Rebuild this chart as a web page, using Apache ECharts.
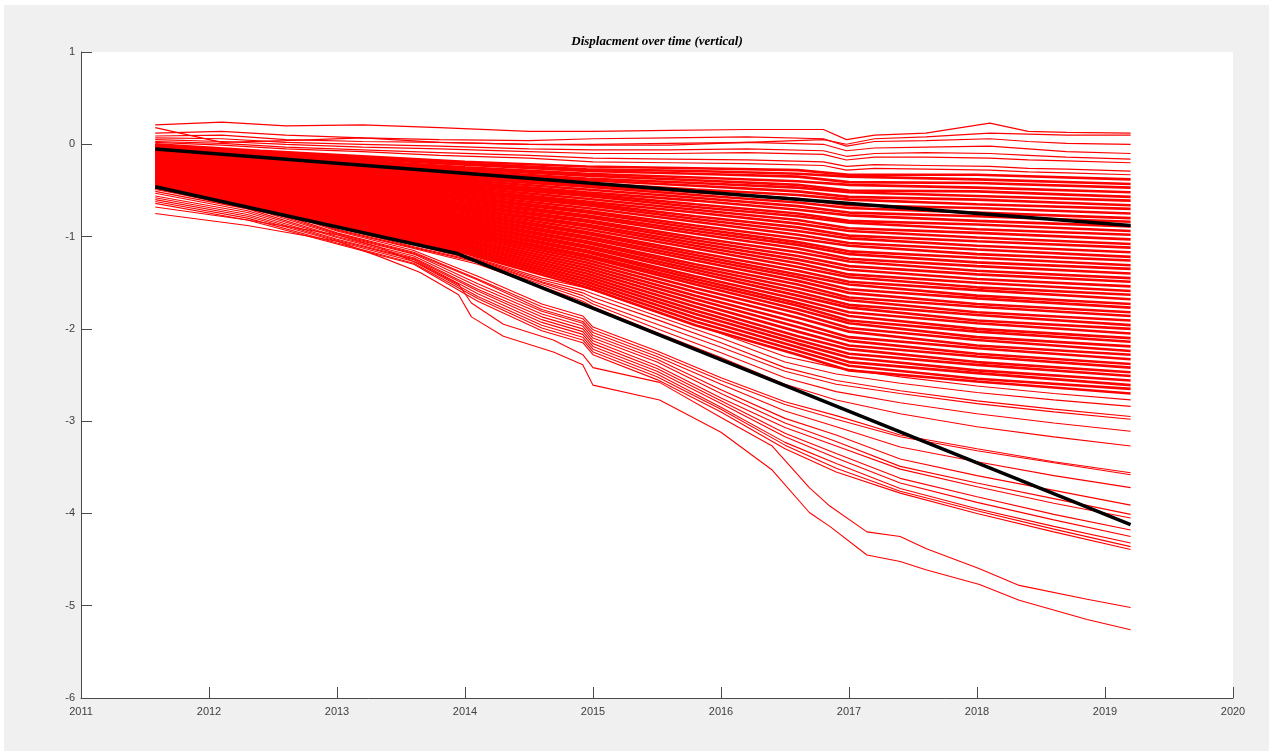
<!DOCTYPE html>
<html><head><meta charset="utf-8">
<script src="https://cdn.jsdelivr.net/npm/echarts@6/dist/echarts.min.js"></script>
<style>html,body{margin:0;padding:0;background:#fff;}#c{position:absolute;left:4px;top:5px;width:1265px;height:746px;}</style>
</head><body><div id="c"></div><script>
const chartTitle = 'Displacment over time (vertical)';
const xRange = [2011, 2020];
const yRange = [-6, 1];

// dense core band: sample times and displacement per point
const coreTimes = [2011.58, 2012.4, 2013.2, 2014.0, 2014.95, 2015.8, 2016.6, 2017.0, 2018.0, 2019.2];
const coreLines = [
[0.00,-0.07,-0.13,-0.19,-0.24,-0.26,-0.28,-0.33,-0.33,-0.38],
[-0.01,-0.08,-0.15,-0.21,-0.27,-0.29,-0.32,-0.35,-0.38,-0.43],
[-0.02,-0.10,-0.16,-0.22,-0.29,-0.32,-0.35,-0.41,-0.42,-0.47],
[-0.03,-0.11,-0.18,-0.25,-0.32,-0.36,-0.40,-0.44,-0.47,-0.52],
[-0.04,-0.12,-0.19,-0.27,-0.34,-0.39,-0.44,-0.50,-0.51,-0.57],
[-0.05,-0.14,-0.21,-0.29,-0.37,-0.42,-0.47,-0.52,-0.56,-0.61],
[-0.06,-0.15,-0.23,-0.30,-0.39,-0.45,-0.51,-0.57,-0.60,-0.66],
[-0.07,-0.16,-0.24,-0.33,-0.42,-0.49,-0.55,-0.60,-0.65,-0.70],
[-0.08,-0.17,-0.26,-0.35,-0.44,-0.52,-0.59,-0.66,-0.69,-0.75],
[-0.08,-0.19,-0.28,-0.37,-0.46,-0.55,-0.63,-0.69,-0.74,-0.80],
[-0.09,-0.20,-0.29,-0.39,-0.49,-0.58,-0.67,-0.74,-0.78,-0.84],
[-0.10,-0.21,-0.31,-0.41,-0.52,-0.61,-0.71,-0.77,-0.83,-0.89],
[-0.11,-0.23,-0.33,-0.43,-0.54,-0.65,-0.75,-0.83,-0.87,-0.94],
[-0.12,-0.24,-0.34,-0.45,-0.56,-0.68,-0.78,-0.85,-0.92,-0.98],
[-0.13,-0.25,-0.36,-0.47,-0.59,-0.71,-0.82,-0.91,-0.96,-1.03],
[-0.14,-0.27,-0.38,-0.49,-0.62,-0.74,-0.86,-0.94,-1.01,-1.08],
[-0.15,-0.28,-0.39,-0.51,-0.64,-0.78,-0.90,-0.99,-1.05,-1.12],
[-0.16,-0.29,-0.41,-0.53,-0.66,-0.81,-0.94,-1.02,-1.10,-1.17],
[-0.17,-0.30,-0.43,-0.55,-0.69,-0.84,-0.98,-1.07,-1.14,-1.22],
[-0.18,-0.32,-0.44,-0.57,-0.72,-0.88,-1.02,-1.10,-1.19,-1.26],
[-0.19,-0.33,-0.46,-0.59,-0.74,-0.91,-1.06,-1.16,-1.23,-1.31],
[-0.20,-0.34,-0.47,-0.61,-0.77,-0.94,-1.09,-1.19,-1.28,-1.35],
[-0.21,-0.36,-0.49,-0.63,-0.79,-0.97,-1.13,-1.24,-1.32,-1.40],
[-0.22,-0.37,-0.51,-0.65,-0.82,-1.01,-1.17,-1.27,-1.37,-1.45],
[-0.23,-0.38,-0.52,-0.67,-0.84,-1.04,-1.21,-1.32,-1.41,-1.49],
[-0.24,-0.39,-0.54,-0.69,-0.87,-1.07,-1.25,-1.36,-1.46,-1.54],
[-0.24,-0.41,-0.56,-0.70,-0.89,-1.10,-1.29,-1.41,-1.50,-1.59],
[-0.25,-0.42,-0.57,-0.72,-0.92,-1.13,-1.33,-1.44,-1.55,-1.63],
[-0.26,-0.43,-0.59,-0.74,-0.95,-1.17,-1.37,-1.49,-1.58,-1.68],
[-0.27,-0.45,-0.61,-0.76,-0.97,-1.20,-1.41,-1.52,-1.64,-1.73],
[-0.28,-0.46,-0.62,-0.78,-1.00,-1.23,-1.44,-1.57,-1.67,-1.77],
[-0.29,-0.47,-0.64,-0.80,-1.02,-1.26,-1.48,-1.61,-1.73,-1.82],
[-0.30,-0.49,-0.65,-0.82,-1.05,-1.30,-1.52,-1.66,-1.76,-1.86],
[-0.31,-0.50,-0.67,-0.84,-1.07,-1.33,-1.56,-1.69,-1.82,-1.91],
[-0.32,-0.51,-0.69,-0.86,-1.10,-1.36,-1.60,-1.74,-1.85,-1.96],
[-0.33,-0.53,-0.70,-0.88,-1.12,-1.39,-1.64,-1.77,-1.91,-2.00],
[-0.34,-0.54,-0.72,-0.90,-1.15,-1.43,-1.68,-1.82,-1.94,-2.05],
[-0.35,-0.55,-0.74,-0.92,-1.17,-1.46,-1.72,-1.86,-2.00,-2.10],
[-0.36,-0.56,-0.75,-0.94,-1.20,-1.49,-1.75,-1.91,-2.03,-2.14],
[-0.37,-0.58,-0.77,-0.96,-1.22,-1.52,-1.79,-1.94,-2.09,-2.19],
[-0.38,-0.59,-0.79,-0.98,-1.25,-1.56,-1.83,-1.99,-2.12,-2.24],
[-0.39,-0.60,-0.80,-1.00,-1.28,-1.60,-1.88,-2.03,-2.18,-2.28],
[-0.39,-0.62,-0.82,-1.02,-1.31,-1.64,-1.93,-2.09,-2.21,-2.33],
[-0.40,-0.63,-0.84,-1.04,-1.34,-1.68,-1.98,-2.13,-2.27,-2.38],
[-0.41,-0.64,-0.85,-1.06,-1.37,-1.72,-2.03,-2.18,-2.30,-2.42],
[-0.42,-0.66,-0.87,-1.08,-1.40,-1.76,-2.08,-2.22,-2.36,-2.47],
[-0.43,-0.67,-0.88,-1.10,-1.43,-1.80,-2.12,-2.27,-2.39,-2.51],
[-0.44,-0.68,-0.90,-1.12,-1.46,-1.84,-2.16,-2.31,-2.45,-2.56],
[-0.45,-0.69,-0.92,-1.14,-1.49,-1.88,-2.20,-2.36,-2.48,-2.61],
[-0.46,-0.71,-0.93,-1.16,-1.52,-1.92,-2.24,-2.40,-2.54,-2.65],
[-0.47,-0.72,-0.95,-1.18,-1.55,-1.96,-2.28,-2.45,-2.57,-2.70]
];

// sparse lines above the band
const topTimes = [2011.58, 2012.1, 2012.6, 2013.2, 2013.8, 2014.5, 2015.0, 2015.6, 2016.2, 2016.8, 2016.98, 2017.2, 2017.6, 2018.1, 2018.4, 2018.7, 2019.2];
const topLines = [
[0.21,0.24,0.20,0.21,0.18,0.14,0.14,0.15,0.16,0.16,0.05,0.10,0.12,0.23,0.14,0.13,0.12],
[0.18,0.02,0.04,0.07,0.02,0.00,-0.01,-0.01,0.02,0.05,0.00,0.06,0.08,0.12,0.11,0.10,0.10],
[0.12,0.14,0.10,0.07,0.05,0.04,0.06,0.07,0.08,0.06,-0.02,0.03,0.04,0.06,0.03,0.01,0.00],
[0.09,0.10,0.05,0.03,0.02,0.00,0.00,0.01,0.02,0.00,-0.07,-0.04,-0.03,-0.02,-0.05,-0.08,-0.10],
[0.07,0.06,0.02,0.00,-0.02,-0.05,-0.06,-0.06,-0.05,-0.07,-0.13,-0.10,-0.09,-0.10,-0.12,-0.14,-0.16],
[0.05,0.03,0.00,-0.03,-0.05,-0.08,-0.10,-0.10,-0.09,-0.11,-0.17,-0.14,-0.14,-0.15,-0.17,-0.18,-0.20],
[0.03,0.01,-0.03,-0.06,-0.09,-0.12,-0.15,-0.16,-0.17,-0.19,-0.24,-0.22,-0.23,-0.24,-0.26,-0.27,-0.29],
[0.02,-0.01,-0.05,-0.08,-0.12,-0.15,-0.19,-0.20,-0.21,-0.23,-0.28,-0.26,-0.27,-0.28,-0.30,-0.31,-0.33]
];

// sparse lines below the band
const lowerTimes = [2011.58, 2012.3, 2013.0, 2013.6, 2014.1, 2014.6, 2014.92, 2015.0, 2015.5, 2016.0, 2016.5, 2016.9, 2017.4, 2018.0, 2018.6, 2019.2];
const lowerLines = [
[-0.30,-0.50,-0.86,-1.06,-1.24,-1.45,-1.55,-1.58,-1.82,-2.05,-2.30,-2.42,-2.52,-2.62,-2.70,-2.77],
[-0.32,-0.52,-0.87,-1.07,-1.25,-1.47,-1.58,-1.62,-1.86,-2.10,-2.36,-2.49,-2.59,-2.69,-2.77,-2.84],
[-0.34,-0.54,-0.89,-1.09,-1.26,-1.49,-1.61,-1.66,-1.90,-2.15,-2.42,-2.56,-2.67,-2.78,-2.87,-2.95],
[-0.36,-0.56,-0.90,-1.11,-1.27,-1.50,-1.64,-1.70,-1.95,-2.20,-2.46,-2.60,-2.70,-2.81,-2.90,-2.98],
[-0.39,-0.58,-0.92,-1.12,-1.28,-1.52,-1.67,-1.73,-2.00,-2.26,-2.53,-2.68,-2.80,-2.92,-3.02,-3.11],
[-0.41,-0.60,-0.93,-1.13,-1.30,-1.54,-1.70,-1.76,-2.04,-2.31,-2.60,-2.77,-2.92,-3.06,-3.17,-3.27],
[-0.43,-0.62,-0.94,-1.15,-1.43,-1.73,-1.86,-1.98,-2.24,-2.53,-2.79,-2.94,-3.15,-3.30,-3.44,-3.56],
[-0.45,-0.64,-0.96,-1.17,-1.46,-1.76,-1.89,-2.01,-2.27,-2.56,-2.82,-2.98,-3.17,-3.32,-3.45,-3.58],
[-0.47,-0.66,-0.97,-1.18,-1.47,-1.79,-1.92,-2.04,-2.30,-2.60,-2.89,-3.06,-3.28,-3.44,-3.59,-3.72],
[-0.49,-0.68,-0.98,-1.19,-1.51,-1.81,-1.94,-2.07,-2.33,-2.66,-2.97,-3.15,-3.41,-3.59,-3.75,-3.91],
[-0.51,-0.70,-1.00,-1.21,-1.54,-1.84,-1.97,-2.10,-2.36,-2.70,-3.02,-3.22,-3.49,-3.67,-3.84,-4.01],
[-0.53,-0.72,-1.01,-1.23,-1.57,-1.87,-2.00,-2.13,-2.40,-2.75,-3.07,-3.27,-3.52,-3.71,-3.89,-4.05],
[-0.56,-0.74,-1.03,-1.24,-1.59,-1.90,-2.03,-2.16,-2.43,-2.78,-3.13,-3.35,-3.62,-3.82,-4.01,-4.18],
[-0.58,-0.76,-1.04,-1.25,-1.62,-1.93,-2.06,-2.19,-2.46,-2.81,-3.17,-3.40,-3.67,-3.88,-4.07,-4.25],
[-0.60,-0.78,-1.05,-1.27,-1.65,-1.96,-2.09,-2.22,-2.49,-2.85,-3.23,-3.46,-3.73,-3.95,-4.14,-4.32],
[-0.62,-0.80,-1.07,-1.29,-1.67,-1.99,-2.12,-2.25,-2.52,-2.87,-3.26,-3.51,-3.76,-3.97,-4.17,-4.36],
[-0.64,-0.82,-1.08,-1.30,-1.70,-2.02,-2.15,-2.28,-2.55,-2.90,-3.30,-3.55,-3.78,-4.00,-4.20,-4.39]
];

// the two deepest lines
const deepTimes = [2011.58, 2012.3, 2013.0, 2013.34, 2013.65, 2013.95, 2014.05, 2014.3, 2014.69, 2014.92, 2015.0, 2015.52, 2016.0, 2016.4, 2016.69, 2016.85, 2017.14, 2017.4, 2017.6, 2018.02, 2018.33, 2018.86, 2019.2];
const deepLines = [
[-0.68,-0.82,-0.98,-1.12,-1.30,-1.52,-1.72,-1.95,-2.12,-2.28,-2.42,-2.58,-2.96,-3.27,-3.72,-3.92,-4.20,-4.25,-4.38,-4.60,-4.78,-4.93,-5.02],
[-0.75,-0.88,-1.05,-1.22,-1.39,-1.63,-1.87,-2.08,-2.25,-2.39,-2.61,-2.77,-3.12,-3.53,-3.99,-4.14,-4.45,-4.52,-4.61,-4.77,-4.94,-5.15,-5.26]
];

// black trend lines
const upperTrendTimes = [2011.58, 2019.2];
const upperTrend = [-0.05, -0.88];
const lowerTrendTimes = [2011.58, 2013.93, 2019.2];
const lowerTrend = [-0.46, -1.18, -4.12];

function pairs(times, vals){ return vals.map((v,i)=>[times[i], v]); }
function mk(times, vals, width, color, z){
  return {type:'line', data:pairs(times, vals), showSymbol:false, symbol:'none', silent:true,
    color:color, itemStyle:{color:color}, z:z,
    lineStyle:{color:color, width:width, opacity:1}, emphasis:{disabled:true}, animation:false};
}
const RED = '#ff0000';
const series = [];
coreLines.forEach(v=>series.push(mk(coreTimes, v, 2.6, RED, 2)));
topLines.forEach(v=>series.push(mk(topTimes, v, 1.2, RED, 2)));
lowerLines.forEach(v=>series.push(mk(lowerTimes, v, 1.1, RED, 2)));
deepLines.forEach(v=>series.push(mk(deepTimes, v, 1.1, RED, 2)));
series.push(mk(upperTrendTimes, upperTrend, 3.5, '#000000', 3));
series.push(mk(lowerTrendTimes, lowerTrend, 3.5, '#000000', 3));

const axisCol = '#4a4a4a';
const labelFont = {color:'#404040', fontSize:11, fontFamily:'"Liberation Sans", Arial, sans-serif'};
const chart = echarts.init(document.getElementById('c'), null, {renderer:'canvas'});
chart.setOption({
  backgroundColor:'#f0f0f0',
  animation:false,
  grid:{left:77, right:36, top:47, bottom:53, show:true, backgroundColor:'#ffffff', borderWidth:0},
  graphic:[{type:'text', x:653, y:37, style:{text:chartTitle, textAlign:'center', textVerticalAlign:'middle',
    font:'italic bold 13px "Liberation Serif", "Times New Roman", serif', fill:'#000'}}],
  xAxis:{type:'value', min:xRange[0], max:xRange[1], interval:1,
    axisLine:{show:true, onZero:false, lineStyle:{color:axisCol, width:1}},
    axisTick:{show:true, inside:true, length:11, lineStyle:{color:axisCol}},
    axisLabel:Object.assign({margin:8, formatter:v=>String(v)}, labelFont),
    splitLine:{show:false}},
  yAxis:{type:'value', min:yRange[0], max:yRange[1], interval:1,
    axisLine:{show:true, onZero:false, lineStyle:{color:axisCol, width:1}},
    axisTick:{show:true, inside:true, length:11, lineStyle:{color:axisCol}},
    axisLabel:Object.assign({margin:6, formatter:v=>String(v)}, labelFont),
    splitLine:{show:false}},
  series:series
});
</script></body></html>
